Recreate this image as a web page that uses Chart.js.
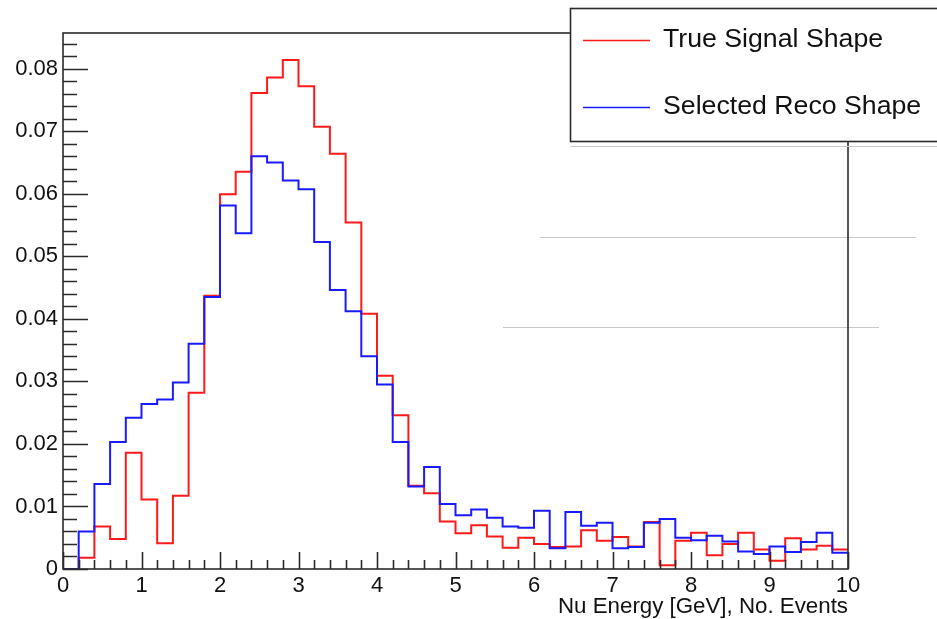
<!DOCTYPE html>
<html>
<head>
<meta charset="utf-8">
<title>Nu Energy</title>
<script src="https://cdn.jsdelivr.net/npm/chart.js"></script>
<style>
    html, body { margin: 0; padding: 0; background: #fff; }
    #wrap { position: relative; width: 937px; height: 619px; }
</style>
</head>
<body>
<div id="wrap"><canvas id="energyChart" width="937" height="619"></canvas></div>
<script>
    // bin layout: 50 bins from 0 to 10 GeV
    const binStart = 0;
    const binWidth = 0.2;

    // per-bin contents (left edge = binStart + i * binWidth)
    const trueSignal = [
        0.0000, 0.0018, 0.0068, 0.0048, 0.0186, 0.0111, 0.0041, 0.0117, 0.0282, 0.0437,
        0.0599, 0.0635, 0.0761, 0.0786, 0.0814, 0.0772, 0.0707, 0.0664, 0.0554, 0.0408,
        0.0309, 0.0246, 0.0133, 0.0121, 0.0076, 0.0057, 0.0070, 0.0052, 0.0034, 0.0050,
        0.0040, 0.0035, 0.0036, 0.0062, 0.0045, 0.0051, 0.0036, 0.0075, 0.0006, 0.0045,
        0.0058, 0.0022, 0.0040, 0.0058, 0.0031, 0.0013, 0.0049, 0.0031, 0.0037, 0.0031
    ];
    const selectedReco = [
        0.0000, 0.0060, 0.0136, 0.0203, 0.0242, 0.0264, 0.0271, 0.0298, 0.0360, 0.0435,
        0.0581, 0.0537, 0.0660, 0.0650, 0.0621, 0.0607, 0.0523, 0.0446, 0.0412, 0.0340,
        0.0295, 0.0203, 0.0132, 0.0163, 0.0104, 0.0086, 0.0095, 0.0082, 0.0068, 0.0066,
        0.0093, 0.0033, 0.0091, 0.0069, 0.0074, 0.0033, 0.0035, 0.0074, 0.0080, 0.0050,
        0.0046, 0.0053, 0.0044, 0.0028, 0.0024, 0.0036, 0.0027, 0.0043, 0.0058, 0.0026
    ];

    const xTickValues = [0, 1, 2, 3, 4, 5, 6, 7, 8, 9, 10];
    const yTickValues = [0, 0.01, 0.02, 0.03, 0.04, 0.05, 0.06, 0.07, 0.08];
    const seriesLabels = ['True Signal Shape', 'Selected Reco Shape'];
    const xTitle = 'Nu Energy [GeV], No. Events';

    const FONT = '"Liberation Sans", Arial, Helvetica, sans-serif';

    // turn bin contents into step points (left edges + closing point at the upper edge)
    function histPoints(values) {
        const pts = values.map((v, i) => ({ x: binStart + i * binWidth, y: v }));
        pts.push({ x: binStart + values.length * binWidth, y: values[values.length - 1] });
        return pts;
    }

    // ROOT-like frame, inward ticks, legend box
    const rootFrame = {
        id: 'rootFrame',
        afterDraw(chart) {
            const ctx = chart.ctx;
            const area = chart.chartArea;
            const xs = chart.scales.x;
            const ys = chart.scales.y;
            ctx.save();

            // faint scan lines seen in the picture
            ctx.strokeStyle = '#c8c8c8';
            ctx.lineWidth = 1;
            ctx.beginPath();
            ctx.moveTo(540, 237.5); ctx.lineTo(916, 237.5);
            ctx.moveTo(503, 327.5); ctx.lineTo(879, 327.5);
            ctx.stroke();

            // frame
            ctx.strokeStyle = '#2b2b2b';
            ctx.lineWidth = 1.6;
            ctx.strokeRect(area.left, area.top, area.right - area.left, area.bottom - area.top);

            // y ticks (inward)
            ctx.beginPath();
            for (let k = 0; k * 0.002 <= ys.max + 1e-9; k++) {
                const py = Math.round(ys.getPixelForValue(k * 0.002)) + 0.5;
                const len = (k % 5 === 0) ? 25 : 14;
                ctx.moveTo(area.left, py);
                ctx.lineTo(area.left + len, py);
            }
            // x ticks (inward)
            for (let k = 0; k * binWidth <= xs.max + 1e-9; k++) {
                const px = Math.round(xs.getPixelForValue(k * binWidth)) + 0.5;
                const len = (k % 5 === 0) ? 17 : 9;
                ctx.moveTo(px, area.bottom);
                ctx.lineTo(px, area.bottom - len);
            }
            ctx.stroke();

            // legend box with shadow
            const bx = 570.5, by = 8.5, bw = 400, bh = 133;
            ctx.strokeStyle = '#c8c8c8';
            ctx.lineWidth = 1;
            ctx.beginPath();
            ctx.moveTo(bx, by + bh + 5);
            ctx.lineTo(937, by + bh + 5);
            ctx.stroke();
            ctx.fillStyle = '#fff';
            ctx.fillRect(bx, by, bw, bh);
            ctx.strokeStyle = '#2b2b2b';
            ctx.lineWidth = 1.6;
            ctx.strokeRect(bx, by, bw, bh);

            const rows = [40.5, 107.5];
            ctx.font = '26.7px ' + FONT;
            ctx.textBaseline = 'middle';
            ctx.textAlign = 'left';
            chart.data.datasets.forEach((ds, i) => {
                ctx.strokeStyle = ds.borderColor;
                ctx.lineWidth = 1.6;
                ctx.beginPath();
                ctx.moveTo(583, rows[i]);
                ctx.lineTo(650, rows[i]);
                ctx.stroke();
                ctx.fillStyle = '#111';
                ctx.fillText(ds.label, 663, rows[i] - 1);
            });
            ctx.restore();
        }
    };

    new Chart(document.getElementById('energyChart'), {
        type: 'line',
        data: {
            datasets: [
                {
                    label: seriesLabels[0],
                    data: histPoints(trueSignal),
                    borderColor: '#ff1a1a',
                    borderWidth: 2,
                    stepped: true,
                    pointRadius: 0,
                    fill: false,
                    order: 1
                },
                {
                    label: seriesLabels[1],
                    data: histPoints(selectedReco),
                    borderColor: '#1a1aff',
                    borderWidth: 2,
                    stepped: true,
                    pointRadius: 0,
                    fill: false,
                    order: 0
                }
            ]
        },
        options: {
            responsive: false,
            animation: false,
            devicePixelRatio: 1,
            layout: { padding: { top: 33, right: 89, left: 0, bottom: 0 } },
            plugins: {
                legend: { display: false },
                tooltip: { enabled: false }
            },
            scales: {
                x: {
                    type: 'linear',
                    min: 0,
                    max: 10,
                    grid: { display: false, drawTicks: false, tickLength: 0 },
                    border: { display: false },
                    afterBuildTicks: s => { s.ticks = xTickValues.map(v => ({ value: v })); },
                    afterFit: s => { s.height = 50; },
                    ticks: {
                        padding: 4,
                        maxRotation: 0,
                        color: '#111',
                        font: { family: FONT, size: 22 },
                        callback: v => String(v)
                    },
                    title: {
                        display: true,
                        text: xTitle,
                        align: 'end',
                        color: '#111',
                        font: { family: FONT, size: 22.3 },
                        padding: { top: 0, bottom: -1 }
                    }
                },
                y: {
                    min: 0,
                    max: 0.0857,
                    grid: { display: false, drawTicks: false, tickLength: 0 },
                    border: { display: false },
                    afterBuildTicks: s => { s.ticks = yTickValues.map(v => ({ value: v })); },
                    afterFit: s => { s.width = 63; },
                    ticks: {
                        padding: 5,
                        color: '#111',
                        font: { family: FONT, size: 22 },
                        callback: v => (v === 0 ? '0' : v.toFixed(2))
                    }
                }
            }
        },
        plugins: [rootFrame]
    });
</script>
</body>
</html>
